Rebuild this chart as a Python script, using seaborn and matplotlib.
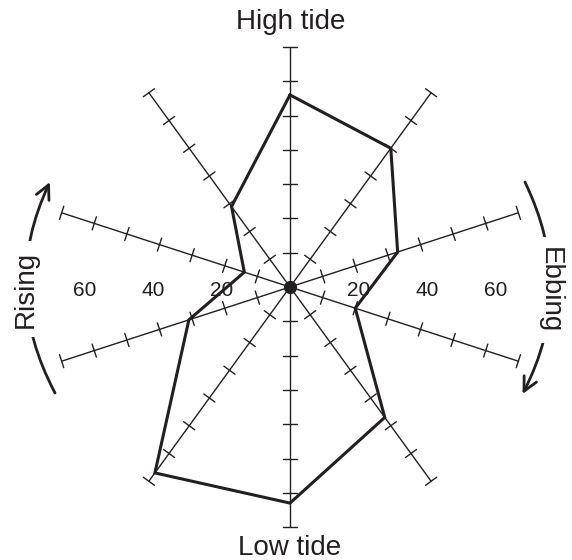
import numpy as np
import pandas as pd
import matplotlib
matplotlib.use("Agg")
import matplotlib.pyplot as plt
import seaborn as sns

# ---- data ----
directions = ["High tide", "HT+1", "HT+2", "HT+3", "HT+4", "Low tide",
              "LT+1", "LT+2", "LT+3", "LT+4"]
values = [56, 50, 33, 20, 47, 63, 67, 31, 14, 29]
radial_ticks = [10, 20, 30, 40, 50, 60, 70]
radial_labels = [20, 40, 60]
phase_labels = ["High tide", "Low tide", "Rising", "Ebbing"]

sns.set_theme(style="white")
plt.rcParams['font.family'] = ['Liberation Sans', 'DejaVu Sans']
INK = "#231f20"

W, H = 572, 560
S = 3.43  # px per unit
cx_px, cy_px = 290, 287

fig = plt.figure(figsize=(W / 100, H / 100), dpi=100)
ax = fig.add_axes([0, 0, 1, 1])
ax.set_xlim(-cx_px / S, (W - cx_px) / S)
ax.set_ylim(-(H - cy_px) / S, cy_px / S)
ax.axis("off")

n = len(values)
ang = np.deg2rad(90 - 36 * np.arange(n))
rmax = radial_ticks[-1]
half = 2.0

# spokes and tick marks
for a in ang:
    ux, uy = np.cos(a), np.sin(a)
    px, py = -uy, ux
    ax.plot([0, rmax * ux], [0, rmax * uy], color=INK, lw=1.0, zorder=1)
    for r in radial_ticks:
        ax.plot([r * ux - half * px, r * ux + half * px],
                [r * uy - half * py, r * uy + half * py],
                color=INK, lw=1.0, zorder=1)

# data polygon
v = np.array(values + values[:1], dtype=float)
aa = np.concatenate([ang, ang[:1]])
df = pd.DataFrame({"x": v * np.cos(aa), "y": v * np.sin(aa)})
sns.lineplot(data=df, x="x", y="y", sort=False, estimator=None, ax=ax,
             color=INK, lw=2.2, zorder=3, solid_joinstyle="miter")
ax.set_xlabel("")
ax.set_ylabel("")
ax.axis("off")

# center dot
ax.plot([0], [0], marker="o", color=INK, markersize=8.5, zorder=4)

# radial labels
for r in radial_labels:
    for sgn in (-1, 1):
        ax.text(sgn * r, -2.6, str(r), ha="center", va="baseline",
                fontsize=15, color=INK, zorder=2)

# phase labels
ax.text(0.2, 75.1, phase_labels[0], ha="center", va="baseline", fontsize=20, color=INK)
ax.text(0.0, -78.1, phase_labels[1], ha="center", va="baseline", fontsize=20, color=INK)
ax.text(-74.9, -0.6, phase_labels[2], ha="center", va="baseline", fontsize=20,
        color=INK, rotation=90, rotation_mode="anchor", zorder=6,
        bbox=dict(facecolor="white", edgecolor="none", boxstyle="square,pad=0.35"))
ax.text(73.8, -0.9, phase_labels[3], ha="center", va="baseline", fontsize=20,
        color=INK, rotation=-90, rotation_mode="anchor", zorder=6,
        bbox=dict(facecolor="white", edgecolor="none", boxstyle="square,pad=0.35"))

# curved arrows
arrow_kw = dict(arrowstyle="->", connectionstyle="arc3,rad=-0.25", lw=2.0,
                color=INK, shrinkA=0, shrinkB=0, mutation_scale=25)
ax.annotate("", xy=(-70.0, 30.6), xytext=(-68.5, -30.9), arrowprops=arrow_kw, zorder=5)
ax.annotate("", xy=(67.8, -31.2), xytext=(68.5, 30.6), arrowprops=arrow_kw, zorder=5)

fig.savefig("out.png", dpi=100, facecolor="white")
